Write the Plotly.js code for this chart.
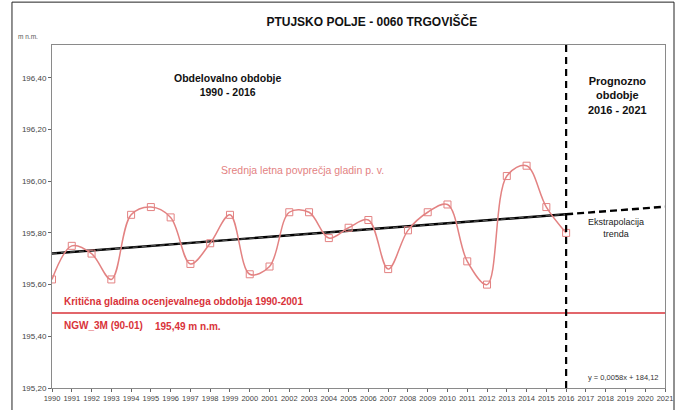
<!DOCTYPE html>
<html>
<head>
<meta charset="utf-8">
<script src="https://cdn.plot.ly/plotly-3.0.1.min.js"></script>
<style>
html,body{margin:0;padding:0;background:#fff;}
#chart{width:686px;height:410px;}
</style>
</head>
<body>
<div id="chart"></div>
<script>
// ---- data ----
const years = [1990,1991,1992,1993,1994,1995,1996,1997,1998,1999,2000,2001,2002,2003,2004,2005,2006,2007,2008,2009,2010,2011,2012,2013,2014,2015,2016];
const levels = [195.62,195.75,195.72,195.62,195.87,195.90,195.86,195.68,195.76,195.87,195.64,195.67,195.88,195.88,195.78,195.82,195.85,195.66,195.81,195.88,195.91,195.69,195.60,196.02,196.06,195.90,195.80];
const critLevel = 195.49;
const forecastStart = 2016;
const forecastEnd = 2021;
const xTickVals = [];
for (let y = 1990; y <= 2021; y++) xTickVals.push(y);
const yTickVals = [195.2,195.4,195.6,195.8,196.0,196.2,196.4];
const yTickText = ["195,20","195,40","195,60","195,80","196,00","196,20","196,40"];

// ---- linear trend (least squares, as the spreadsheet trendline) ----
const n = years.length;
const mx = years.reduce((a,b)=>a+b,0)/n;
const my = levels.reduce((a,b)=>a+b,0)/n;
let sxy = 0, sxx = 0;
for (let i=0;i<n;i++){ sxy += (years[i]-mx)*(levels[i]-my); sxx += (years[i]-mx)**2; }
const slope = sxy/sxx;
const icpt = my - slope*mx;
const trend = x => icpt + slope*x;
const trendX = [years[0], forecastStart];
const extX = [forecastStart, forecastEnd];

const red = '#d9333a';
const pink = '#e38282';
const FONT = 'Liberation Sans, Arial, sans-serif';

const traces = [
  {x: trendX, y: trendX.map(trend), mode:'lines', line:{color:'#000', width:2.4}, hoverinfo:'skip'},
  {x: trendX, y: trendX.map(trend), mode:'lines', line:{color:'rgba(255,255,255,0.45)', width:0.8, dash:'5px,4px'}, hoverinfo:'skip'},
  {x: extX, y: extX.map(trend), mode:'lines', line:{color:'#000', width:2.4, dash:'7px,4px'}, hoverinfo:'skip'},
  {x: [xTickVals[0], xTickVals[xTickVals.length-1]], y: [critLevel, critLevel], mode:'lines', line:{color:red, width:1.6}, hoverinfo:'skip'},
  {x: years, y: levels, mode:'lines+markers', line:{color:pink, width:1.5, shape:'spline', smoothing:1},
   marker:{symbol:'square-open', size:7, color:pink, line:{width:1, color:pink}}}
];

const ann = (x,y,text,opts={}) => Object.assign({x, y, xref:'x', yref:'y', text, showarrow:false, xanchor:'center', yanchor:'middle'}, opts);

const layout = {
  width:686, height:410,
  margin:{l:52, r:21, t:45, b:22},
  paper_bgcolor:'#fff', plot_bgcolor:'#fff',
  showlegend:false,
  font:{family:FONT, color:'#333'},
  title:{text:'<b>PTUJSKO POLJE - 0060 TRGOVIŠČE</b>', font:{family:FONT, size:12, color:'#111'},
         xref:'container', yref:'container', x:0.542, y:0.946, xanchor:'center', yanchor:'middle'},
  xaxis:{range:[1990,2021], tickvals:xTickVals, ticktext:xTickVals.map(String), tickangle:0,
         tickfont:{size:7.5, color:'#444'}, ticks:'outside', ticklen:3, tickcolor:'#666',
         showline:true, linecolor:'#8a8a8a', linewidth:1, mirror:true, showgrid:false, zeroline:false, fixedrange:true},
  yaxis:{range:[195.2,196.527], tickvals:yTickVals, ticktext:yTickText,
         tickfont:{size:8, color:'#444'}, ticks:'outside', ticklen:3, tickcolor:'#666',
         showline:true, linecolor:'#8a8a8a', linewidth:1, mirror:true, showgrid:false, zeroline:false, fixedrange:true},
  shapes:[
    {type:'line', xref:'x', yref:'paper', x0:forecastStart, x1:forecastStart, y0:0, y1:1,
     line:{color:'#000', width:2.2, dash:'7px,5px'}},
    {type:'rect', xref:'paper', yref:'paper', x0:-0.0653, x1:1.0147, y0:-0.08, y1:1.125,
     line:{color:'#222', width:1}, fillcolor:'rgba(0,0,0,0)', layer:'below'}
  ],
  annotations:[
    {xref:'paper', yref:'paper', x:-0.039, y:1.025, text:'m n.m.', showarrow:false, font:{size:6.5, color:'#555'}, xanchor:'center', yanchor:'middle'},
    ann(1998.9, 196.372, '<b>Obdelovalno obdobje<br>1990 - 2016</b>', {font:{size:10.5, color:'#111'}}),
    ann(2018.58, 196.33, '<b>Prognozno<br>obdobje<br>2016 - 2021</b>', {font:{size:11, color:'#111'}}),
    ann(2002.65, 196.043, 'Srednja letna povprečja gladin p. v.', {font:{size:10.5, color:pink}}),
    ann(2018.53, 195.819, 'Ekstrapolacija<br>trenda', {font:{size:9, color:'#222'}}),
    ann(1990.5, 195.533, '<b>Kritična gladina ocenjevalnega obdobja 1990-2001</b>', {xanchor:'left', font:{size:10, color:red}}),
    ann(1990.5, 195.44, '<b>NGW_3M (90-01)</b>', {xanchor:'left', font:{size:10, color:red}}),
    ann(1995.1, 195.437, '<b>' + critLevel.toFixed(2).replace('.', ',') + ' m n.m.</b>', {xanchor:'left', font:{size:10, color:red}}),
    ann(2020.75, 195.239, 'y = 0,0058x + 184,12', {xanchor:'right', font:{size:7.5, color:'#333'}})
  ]
};

Plotly.newPlot('chart', traces, layout, {staticPlot:true, displayModeBar:false});
</script>
</body>
</html>
